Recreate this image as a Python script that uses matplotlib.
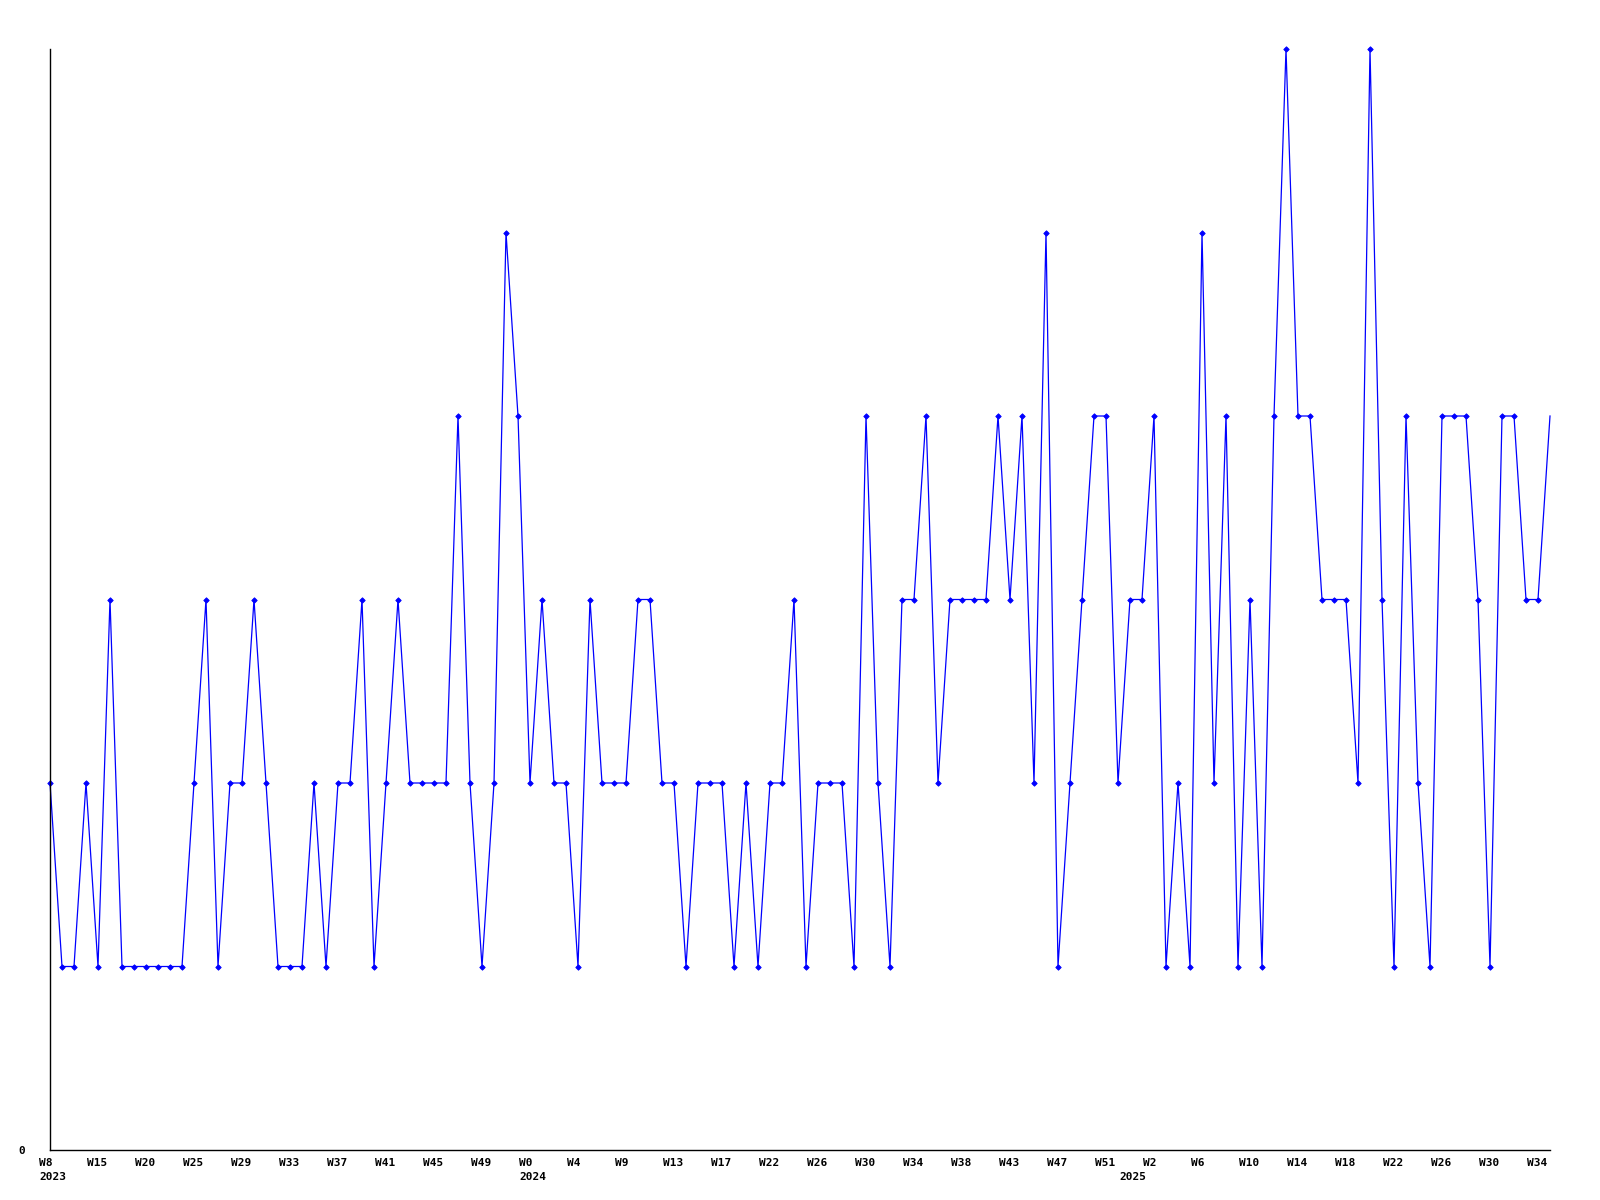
import matplotlib
matplotlib.use("Agg")
import matplotlib.pyplot as plt
from matplotlib.transforms import ScaledTranslation
import numpy as np

# ---- data ----
values = [2, 1, 1, 2, 1, 3, 1, 1, 1, 1,
          1, 1, 2, 3, 1, 2, 2, 3, 2, 1,
          1, 1, 2, 1, 2, 2, 3, 1, 2, 3,
          2, 2, 2, 2, 4, 2, 1, 2, 5, 4,
          2, 3, 2, 2, 1, 3, 2, 2, 2, 3,
          3, 2, 2, 1, 2, 2, 2, 1, 2, 1,
          2, 2, 3, 1, 2, 2, 2, 1, 4, 2,
          1, 3, 3, 4, 2, 3, 3, 3, 3, 4,
          3, 4, 2, 5, 1, 2, 3, 4, 4, 2,
          3, 3, 4, 1, 2, 1, 5, 2, 4, 1,
          3, 1, 4, 6, 4, 4, 3, 3, 3, 2,
          6, 3, 1, 4, 2, 1, 4, 4, 4, 3,
          1, 4, 4, 3, 3, 4]
week_labels = ["W8", "W15", "W20", "W25", "W29", "W33", "W37", "W41", "W45", "W49",
               "W0", "W4", "W9", "W13", "W17", "W22", "W26", "W30", "W34", "W38",
               "W43", "W47", "W51", "W2", "W6", "W10", "W14", "W18", "W22", "W26",
               "W30", "W34"]
week_label_step = 4
year_labels = ["2023", "2024", "2025"]
year_label_index = [0, 40, 90]
y_tick_values = [0]
y_tick_labels = ["0"]

x = np.arange(len(values))

plt.rcParams['font.family'] = ['DejaVu Sans Mono']
plt.rcParams['font.weight'] = 'bold'
plt.rcParams['font.size'] = 8

fig = plt.figure(figsize=(16, 12), dpi=100)
ax = fig.add_axes([50 / 1600, 50 / 1200, 1500 / 1600, 1101 / 1200])

ax.plot(x, values, color=(0, 0, 1), linewidth=0.9, marker='D', markersize=2.8,
        markeredgewidth=0.6, markevery=list(range(len(values) - 1)), clip_on=False)

ax.set_xlim(0, len(values) - 1)
ax.set_ylim(0, 6)

for s in ['top', 'right']:
    ax.spines[s].set_visible(False)
for s in ['left', 'bottom']:
    ax.spines[s].set_color('black')
    ax.spines[s].set_linewidth(1.0)

ax.set_yticks(y_tick_values)
ax.set_yticklabels(y_tick_labels)
ax.tick_params(axis='y', length=0, pad=18)

ax.xaxis.remove_overlapping_locs = False
ax.set_xticks(x[::week_label_step][:len(week_labels)])
ax.set_xticklabels(week_labels, ha='left')
ax.set_xticks(year_label_index, minor=True)
ax.set_xticklabels(year_labels, minor=True, ha='left')
ax.tick_params(axis='x', which='major', length=0, pad=6)
ax.tick_params(axis='x', which='minor', length=0, pad=16)

offset = ScaledTranslation(-11 / 100, 0, fig.dpi_scale_trans)
for lab in ax.get_xticklabels(which='both'):
    lab.set_transform(lab.get_transform() + offset)

fig.savefig("out.png", dpi=100, facecolor='white')
